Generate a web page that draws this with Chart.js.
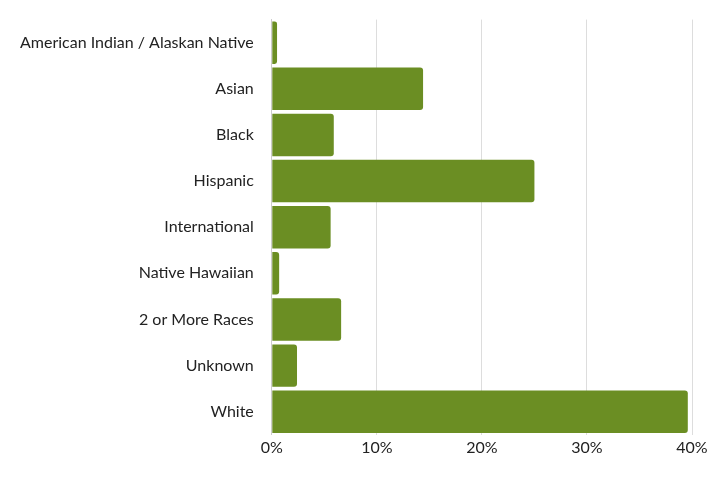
<!DOCTYPE html>
<html><head><script src="https://cdn.jsdelivr.net/npm/chart.js@4"></script>
<style>body{margin:0;background:#fff}#w{width:720px;height:500px}</style></head>
<body><div id="w"><canvas id="c"></canvas></div>
<script>
const categories=["American Indian / Alaskan Native","Asian","Black","Hispanic","International","Native Hawaiian","2 or More Races","Unknown","White"];
const values=[0.5,14.4,5.9,25.0,5.6,0.7,6.6,2.4,39.6];
const tickValues=[0,10,20,30,40];
new Chart(document.getElementById('c'),{type:'bar',
data:{labels:categories,datasets:[{data:values,backgroundColor:'#6b8e23',borderRadius:3,borderSkipped:'start',categoryPercentage:0.92,barPercentage:1}]},
options:{indexAxis:'y',responsive:true,maintainAspectRatio:false,animation:false,
layout:{padding:{top:0,right:28,left:10,bottom:40}},
plugins:{legend:{display:false},tooltip:{enabled:false}},
scales:{x:{min:0,max:40,afterBuildTicks:a=>{a.ticks=tickValues.map(v=>({value:v}))},
ticks:{callback:v=>v+'%',color:'#222',font:{family:'Lato',size:16}},
grid:{color:'#dddddd',drawTicks:false},border:{display:false}},
y:{ticks:{color:'#222',font:{family:'Lato',size:16},padding:10},grid:{display:false},border:{display:true,color:'#ccc'}}}}});
</script></body></html>
